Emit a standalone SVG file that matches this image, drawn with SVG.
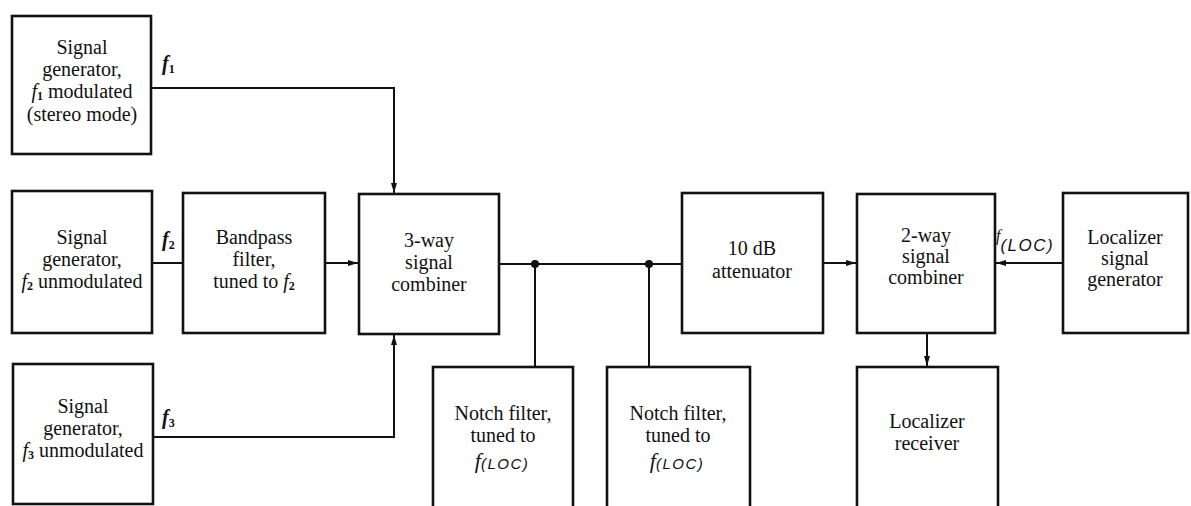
<svg xmlns="http://www.w3.org/2000/svg" width="1191" height="506" viewBox="0 0 1191 506">
<style>
.box{fill:#fff;stroke:#111;stroke-width:2.6}
.t{font-family:"Liberation Serif","Times New Roman",serif;font-size:20px;fill:#111;text-anchor:middle}
.lbl{font-family:"Liberation Serif","Times New Roman",serif;font-size:20px;font-weight:bold;font-style:italic;fill:#111}
.sub{font-size:12px;font-weight:bold;font-style:normal}
.it{font-style:italic}
.loc{font-family:"Liberation Sans",Arial,sans-serif;font-style:italic;letter-spacing:1.5px}
.w{fill:none;stroke:#111;stroke-width:2}
</style>
<defs>
<marker id="ah" viewBox="0 0 10 6" refX="10" refY="3" markerWidth="10" markerHeight="6" markerUnits="userSpaceOnUse" orient="auto">
<path d="M0,0 L10,3 L0,6 Z" fill="#111"/>
</marker>
</defs>
<rect width="1191" height="506" fill="#fff"/>
<g id="connectors">
<path class="w" d="M151,88 H394 V193" marker-end="url(#ah)"/>
<path class="w" d="M152,263 H183"/>
<path class="w" d="M325,263 H358" marker-end="url(#ah)"/>
<path class="w" d="M153,437 H394 V335" marker-end="url(#ah)"/>
<path class="w" d="M499,264 H682"/>
<path class="w" d="M535,264 V367"/>
<path class="w" d="M649,264 V367"/>
<circle cx="535" cy="264" r="4" fill="#111"/>
<circle cx="649" cy="264" r="4" fill="#111"/>
<path class="w" d="M823,263 H856" marker-end="url(#ah)"/>
<path class="w" d="M1063,263 H996" marker-end="url(#ah)"/>
<path class="w" d="M927,333 V366" marker-end="url(#ah)"/>
</g>
<g id="labels">
<text class="lbl" x="162" y="70">f<tspan class="sub" dy="3">1</tspan></text>
<text class="lbl" x="162" y="246">f<tspan class="sub" dy="3">2</tspan></text>
<text class="lbl" x="162" y="424">f<tspan class="sub" dy="3">3</tspan></text>
<text x="996" y="241" font-family="Liberation Serif, serif" font-style="italic" font-size="16" fill="#111">f<tspan class="loc" font-size="17" dy="10">(LOC)</tspan></text>
</g>
<g id="gen1">
<rect class="box" x="12" y="16" width="139" height="138"/>
<text class="t" x="82" y="54">Signal</text>
<text class="t" x="82" y="76">generator,</text>
<text class="t" x="82" y="98"><tspan class="it">f</tspan><tspan class="sub" dy="2">1</tspan><tspan dy="-2">  modulated</tspan></text>
<text class="t" x="82" y="121">(stereo mode)</text>
</g>
<g id="gen2">
<rect class="box" x="12" y="191" width="140" height="142"/>
<text class="t" x="82" y="244">Signal</text>
<text class="t" x="82" y="266">generator,</text>
<text class="t" x="82" y="288"><tspan class="it">f</tspan><tspan class="sub" dy="2">2</tspan><tspan dy="-2"> unmodulated</tspan></text>
</g>
<g id="gen3">
<rect class="box" x="13" y="364" width="140" height="140"/>
<text class="t" x="83" y="413">Signal</text>
<text class="t" x="83" y="435">generator,</text>
<text class="t" x="83" y="457"><tspan class="it">f</tspan><tspan class="sub" dy="2">3</tspan><tspan dy="-2"> unmodulated</tspan></text>
</g>
<g id="bandpass">
<rect class="box" x="183" y="193" width="142" height="140"/>
<text class="t" x="254" y="244">Bandpass</text>
<text class="t" x="254" y="266">filter,</text>
<text class="t" x="254" y="288">tuned to <tspan class="it">f</tspan><tspan class="sub" dy="2">2</tspan></text>
</g>
<g id="combiner3">
<rect class="box" x="359" y="194" width="140" height="140"/>
<text class="t" x="429" y="247">3-way</text>
<text class="t" x="429" y="269">signal</text>
<text class="t" x="429" y="291">combiner</text>
</g>
<g id="notch1">
<rect class="box" x="433" y="367" width="140" height="160"/>
<text class="t" x="503" y="420">Notch filter,</text>
<text class="t" x="503" y="442">tuned to</text>
<text class="t" x="502" y="468"><tspan class="it" font-size="22">f</tspan><tspan class="loc" font-size="15" dy="1">(LOC)</tspan></text>
</g>
<g id="notch2">
<rect class="box" x="607" y="367" width="143" height="160"/>
<text class="t" x="678" y="420">Notch filter,</text>
<text class="t" x="678" y="442">tuned to</text>
<text class="t" x="677" y="468"><tspan class="it" font-size="22">f</tspan><tspan class="loc" font-size="15" dy="1">(LOC)</tspan></text>
</g>
<g id="attenuator">
<rect class="box" x="682" y="193" width="141" height="140"/>
<text class="t" x="752" y="255">10 dB</text>
<text class="t" x="752" y="278">attenuator</text>
</g>
<g id="combiner2">
<rect class="box" x="857" y="194" width="138" height="139"/>
<text class="t" x="926" y="242">2-way</text>
<text class="t" x="926" y="263">signal</text>
<text class="t" x="926" y="284">combiner</text>
</g>
<g id="locgen">
<rect class="box" x="1063" y="193" width="125" height="140"/>
<text class="t" x="1125" y="244">Localizer</text>
<text class="t" x="1125" y="265">signal</text>
<text class="t" x="1125" y="286">generator</text>
</g>
<g id="locrx">
<rect class="box" x="857" y="367" width="141" height="160"/>
<text class="t" x="927" y="428">Localizer</text>
<text class="t" x="927" y="450">receiver</text>
</g>
</svg>
